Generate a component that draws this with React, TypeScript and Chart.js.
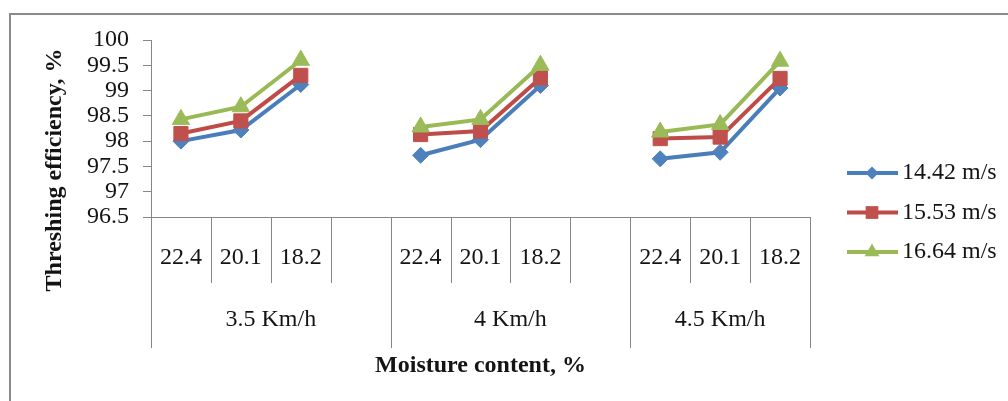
import React, { useEffect, useRef } from 'react';
import { Chart, registerables } from 'chart.js';

Chart.register(...registerables);

// ---- data ----
const categories = ['22.4', '20.1', '18.2', '', '22.4', '20.1', '18.2', '', '22.4', '20.1', '18.2'];
const groupLabels = ['3.5 Km/h', '4 Km/h', '4.5 Km/h'];
const groupSizes = [4, 4, 3];
const seriesNames = ['14.42 m/s', '15.53 m/s', '16.64 m/s'];
const speed1442 = [98.0, 98.22, 99.12, null, 97.72, 98.03, 99.1, null, 97.65, 97.78, 99.05];
const speed1553 = [98.15, 98.4, 99.3, null, 98.13, 98.2, 99.25, null, 98.05, 98.08, 99.24];
const speed1664 = [98.43, 98.68, 99.6, null, 98.28, 98.43, 99.5, null, 98.18, 98.33, 99.58];
const yMin = 96.5;
const yMax = 100;
const yStep = 0.5;
const xTitle = 'Moisture content, %';
const yTitle = 'Threshing efficiency, %';

// ---- styles ----
const SERIF = '"Liberation Serif", "Times New Roman", serif';
const TEXT = '#141414';
const AXIS = '#868686';
const FS = 24;
const lineColors = ['#4A7EBB', '#BE4B48', '#98B954'];
const markerColors = ['#4F81BD', '#C0504D', '#9BBB59'];
const markerStyles = ['rectRot', 'rect', 'triangle'];
const markerRadii = [8, 10, 10];
const legendRadii = [6.5, 9, 8.5];

function drawMarker(ctx: CanvasRenderingContext2D, style: string, x: number, y: number, r: number, color: string) {
  ctx.save();
  ctx.fillStyle = color;
  ctx.beginPath();
  if (style === 'rectRot') {
    ctx.moveTo(x, y - r);
    ctx.lineTo(x + r, y);
    ctx.lineTo(x, y + r);
    ctx.lineTo(x - r, y);
  } else if (style === 'rect') {
    const s = r * Math.SQRT1_2;
    ctx.rect(x - s, y - s, 2 * s, 2 * s);
  } else {
    ctx.moveTo(x, y - r);
    ctx.lineTo(x + r * Math.sin((2 * Math.PI) / 3), y - r * Math.cos((2 * Math.PI) / 3));
    ctx.lineTo(x + r * Math.sin((4 * Math.PI) / 3), y - r * Math.cos((4 * Math.PI) / 3));
  }
  ctx.closePath();
  ctx.fill();
  ctx.restore();
}

const framePlugin = {
  id: 'frame',
  beforeDraw(chart: any) {
    const ctx = chart.ctx as CanvasRenderingContext2D;
    ctx.save();
    ctx.fillStyle = '#ffffff';
    ctx.fillRect(0, 0, chart.width, chart.height);
    ctx.strokeStyle = '#8a8a8a';
    ctx.lineWidth = 2;
    ctx.strokeRect(10, 14, chart.width + 20, chart.height + 20);
    ctx.restore();
  },
};

const multiLevelPlugin = {
  id: 'multiLevel',
  afterDraw(chart: any) {
    const ctx = chart.ctx as CanvasRenderingContext2D;
    const xs = chart.scales.x;
    const n = categories.length;
    const axisY = xs.top;
    const shortBottom = axisY + 66;
    const longBottom = axisY + 131;
    const bounds: number[] = [];
    for (let i = 0; i <= n; i++) {
      if (i === 0) bounds.push(xs.left);
      else if (i === n) bounds.push(xs.right);
      else bounds.push((xs.getPixelForValue(i - 1) + xs.getPixelForValue(i)) / 2);
    }
    const groupStarts = new Set<number>();
    let acc = 0;
    groupStarts.add(0);
    groupSizes.forEach((s) => {
      acc += s;
      groupStarts.add(acc);
    });
    ctx.save();
    ctx.strokeStyle = AXIS;
    ctx.lineWidth = 1;
    bounds.forEach((bx, i) => {
      const px = Math.round(bx) + 0.5;
      ctx.beginPath();
      ctx.moveTo(px, axisY);
      ctx.lineTo(px, groupStarts.has(i) ? longBottom : shortBottom);
      ctx.stroke();
    });
    // group labels
    ctx.fillStyle = TEXT;
    ctx.font = `${FS}px ${SERIF}`;
    ctx.textAlign = 'center';
    ctx.textBaseline = 'middle';
    let start = 0;
    groupLabels.forEach((g, gi) => {
      const end = start + groupSizes[gi];
      const cx = (bounds[start] + bounds[end]) / 2;
      ctx.fillText(g, cx, axisY + 103);
      start = end;
    });
    // y-axis title
    ctx.font = `bold ${FS}px ${SERIF}`;
    ctx.translate(55, 170);
    ctx.rotate(-Math.PI / 2);
    ctx.fillText(yTitle, 0, 0);
    ctx.restore();

    // legend
    ctx.save();
    chart.data.datasets.forEach((ds: any, i: number) => {
      const y = 173 + i * 39.5;
      ctx.strokeStyle = lineColors[i];
      ctx.lineWidth = 4;
      ctx.beginPath();
      ctx.moveTo(847, y);
      ctx.lineTo(898, y);
      ctx.stroke();
      drawMarker(ctx, markerStyles[i], 872, y, legendRadii[i], markerColors[i]);
      ctx.fillStyle = TEXT;
      ctx.font = `${FS}px ${SERIF}`;
      ctx.textAlign = 'left';
      ctx.textBaseline = 'middle';
      ctx.fillText(ds.label, 902, y);
    });
    ctx.restore();
  },
};

export default function App() {
  const ref = useRef<HTMLCanvasElement | null>(null);

  useEffect(() => {
    if (!ref.current) return;
    const seriesData = [speed1442, speed1553, speed1664];
    const chart = new Chart(ref.current, {
      type: 'line',
      data: {
        labels: categories,
        datasets: seriesData.map((d, i) => ({
          label: seriesNames[i],
          data: d,
          borderColor: lineColors[i],
          backgroundColor: markerColors[i],
          borderWidth: 4,
          pointStyle: markerStyles[i] as any,
          pointRadius: markerRadii[i],
          pointBackgroundColor: markerColors[i],
          pointBorderColor: markerColors[i],
          pointBorderWidth: 1,
          tension: 0,
          spanGaps: false,
          order: 2 - i,
        })),
      },
      options: {
        animation: false,
        responsive: false,
        events: [],
        layout: { padding: { left: 0, right: 198, top: 40, bottom: 0 } },
        plugins: { legend: { display: false }, tooltip: { enabled: false } },
        scales: {
          x: {
            type: 'category',
            offset: true,
            grid: { display: false, drawTicks: false },
            border: { display: true, color: AXIS, width: 1 },
            ticks: {
              autoSkip: false,
              maxRotation: 0,
              minRotation: 0,
              padding: 26,
              color: TEXT,
              font: { family: SERIF, size: FS },
            },
            title: {
              display: true,
              text: xTitle,
              color: TEXT,
              font: { family: SERIF, size: FS, weight: 'bold' },
              padding: { top: 0, bottom: 21 },
            },
            afterFit: (s: any) => {
              s.height = 184;
            },
          },
          y: {
            min: yMin,
            max: yMax,
            ticks: {
              stepSize: yStep,
              autoSkip: false,
              maxTicksLimit: 20,
              padding: 14,
              color: TEXT,
              font: { family: SERIF, size: FS, lineHeight: 1 },
              callback: (v: any) => String(Number(v)),
            },
            grid: { drawOnChartArea: false, drawTicks: true, tickLength: 8, color: AXIS },
            border: { display: true, color: AXIS, width: 1 },
            afterFit: (s: any) => {
              s.width = 151;
            },
          },
        },
      } as any,
      plugins: [framePlugin, multiLevelPlugin],
    });
    return () => chart.destroy();
  }, []);

  return (
    <div style={{ position: 'fixed', left: 0, top: 0, width: 1008, height: 401, background: '#fff' }}>
      <canvas ref={ref} width={1008} height={401} style={{ display: 'block', width: 1008, height: 401 }} />
    </div>
  );
}
